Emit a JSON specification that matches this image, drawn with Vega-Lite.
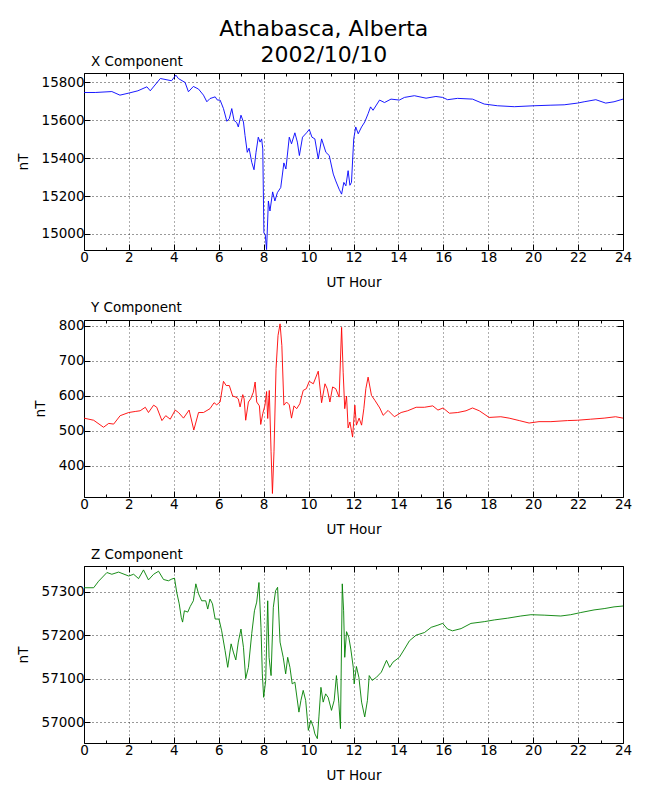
{
  "$schema": "https://vega.github.io/schema/vega-lite/v6.json",
  "padding": {"left": 15, "top": 17, "right": 17, "bottom": 5},
  "title": {"text": ["Athabasca, Alberta", "2002/10/10"], "anchor": "middle", "frame": "bounds", "dx": 0, "fontSize": 22, "fontWeight": "normal", "lineHeight": 26, "offset": -12},
  "datasets": {
    "X": [
      {"h": 0, "v": 15747}, {"h": 0.5, "v": 15747}, {"h": 1.24, "v": 15752}, {"h": 1.6, "v": 15733},
      {"h": 2.0, "v": 15744}, {"h": 2.4, "v": 15756}, {"h": 2.8, "v": 15777}, {"h": 2.95, "v": 15756},
      {"h": 3.4, "v": 15821}, {"h": 3.9, "v": 15809}, {"h": 4.09, "v": 15839}, {"h": 4.2, "v": 15821},
      {"h": 4.5, "v": 15800}, {"h": 4.65, "v": 15751}, {"h": 4.87, "v": 15779}, {"h": 5.1, "v": 15765},
      {"h": 5.32, "v": 15733}, {"h": 5.47, "v": 15698}, {"h": 5.61, "v": 15715}, {"h": 5.84, "v": 15724},
      {"h": 5.94, "v": 15707}, {"h": 6.06, "v": 15707}, {"h": 6.21, "v": 15662}, {"h": 6.36, "v": 15595},
      {"h": 6.47, "v": 15609}, {"h": 6.58, "v": 15662}, {"h": 6.68, "v": 15600}, {"h": 6.8, "v": 15588},
      {"h": 6.87, "v": 15565}, {"h": 6.99, "v": 15627}, {"h": 7.1, "v": 15591}, {"h": 7.17, "v": 15520},
      {"h": 7.27, "v": 15431}, {"h": 7.35, "v": 15453}, {"h": 7.47, "v": 15378}, {"h": 7.57, "v": 15339},
      {"h": 7.66, "v": 15431}, {"h": 7.76, "v": 15511}, {"h": 7.84, "v": 15485}, {"h": 7.91, "v": 15502},
      {"h": 7.96, "v": 15449}, {"h": 8.01, "v": 15005}, {"h": 8.07, "v": 14996}, {"h": 8.13, "v": 14917},
      {"h": 8.21, "v": 15174}, {"h": 8.28, "v": 15121}, {"h": 8.4, "v": 15222}, {"h": 8.5, "v": 15174},
      {"h": 8.61, "v": 15218}, {"h": 8.76, "v": 15245}, {"h": 8.9, "v": 15375}, {"h": 8.99, "v": 15343},
      {"h": 9.14, "v": 15511}, {"h": 9.24, "v": 15476}, {"h": 9.39, "v": 15534}, {"h": 9.5, "v": 15485},
      {"h": 9.59, "v": 15414}, {"h": 9.73, "v": 15511}, {"h": 9.91, "v": 15534}, {"h": 10.03, "v": 15552},
      {"h": 10.15, "v": 15511}, {"h": 10.28, "v": 15502}, {"h": 10.43, "v": 15396}, {"h": 10.58, "v": 15502},
      {"h": 10.77, "v": 15431}, {"h": 10.92, "v": 15414}, {"h": 11.1, "v": 15316}, {"h": 11.21, "v": 15280},
      {"h": 11.36, "v": 15236}, {"h": 11.47, "v": 15210}, {"h": 11.57, "v": 15272}, {"h": 11.66, "v": 15254},
      {"h": 11.76, "v": 15334}, {"h": 11.84, "v": 15257}, {"h": 11.91, "v": 15272}, {"h": 12.01, "v": 15502},
      {"h": 12.1, "v": 15565}, {"h": 12.21, "v": 15529}, {"h": 12.36, "v": 15565}, {"h": 12.5, "v": 15591},
      {"h": 12.65, "v": 15635}, {"h": 12.76, "v": 15671}, {"h": 12.87, "v": 15653}, {"h": 13.16, "v": 15707},
      {"h": 13.38, "v": 15694}, {"h": 13.67, "v": 15712}, {"h": 14.04, "v": 15707}, {"h": 14.27, "v": 15721},
      {"h": 14.71, "v": 15730}, {"h": 15.23, "v": 15717}, {"h": 15.67, "v": 15726}, {"h": 15.97, "v": 15721},
      {"h": 16.19, "v": 15709}, {"h": 16.63, "v": 15716}, {"h": 17.3, "v": 15712}, {"h": 17.82, "v": 15686},
      {"h": 18.41, "v": 15677}, {"h": 19.16, "v": 15672}, {"h": 20.04, "v": 15677}, {"h": 20.79, "v": 15680},
      {"h": 21.38, "v": 15682}, {"h": 21.97, "v": 15691}, {"h": 22.27, "v": 15698}, {"h": 22.79, "v": 15709},
      {"h": 23.23, "v": 15691}, {"h": 23.6, "v": 15698}, {"h": 24, "v": 15712}
    ],
    "Y": [
      {"h": 0, "v": 536}, {"h": 0.43, "v": 530}, {"h": 0.87, "v": 510}, {"h": 1.1, "v": 521},
      {"h": 1.32, "v": 519}, {"h": 1.61, "v": 543}, {"h": 1.99, "v": 552}, {"h": 2.28, "v": 555},
      {"h": 2.5, "v": 557}, {"h": 2.73, "v": 567}, {"h": 2.87, "v": 552}, {"h": 3.1, "v": 573},
      {"h": 3.24, "v": 567}, {"h": 3.47, "v": 529}, {"h": 3.64, "v": 543}, {"h": 3.84, "v": 533},
      {"h": 4.06, "v": 559}, {"h": 4.21, "v": 552}, {"h": 4.43, "v": 536}, {"h": 4.68, "v": 559},
      {"h": 4.89, "v": 502}, {"h": 5.1, "v": 552}, {"h": 5.32, "v": 552}, {"h": 5.61, "v": 563},
      {"h": 5.79, "v": 580}, {"h": 5.91, "v": 574}, {"h": 6.06, "v": 582}, {"h": 6.21, "v": 641},
      {"h": 6.33, "v": 629}, {"h": 6.47, "v": 629}, {"h": 6.62, "v": 599}, {"h": 6.77, "v": 596},
      {"h": 6.87, "v": 591}, {"h": 6.95, "v": 568}, {"h": 7.07, "v": 603}, {"h": 7.13, "v": 591},
      {"h": 7.2, "v": 530}, {"h": 7.32, "v": 582}, {"h": 7.42, "v": 591}, {"h": 7.54, "v": 610},
      {"h": 7.62, "v": 639}, {"h": 7.69, "v": 582}, {"h": 7.81, "v": 571}, {"h": 7.87, "v": 518},
      {"h": 7.96, "v": 549}, {"h": 8.06, "v": 573}, {"h": 8.13, "v": 612}, {"h": 8.18, "v": 535},
      {"h": 8.25, "v": 615}, {"h": 8.33, "v": 440}, {"h": 8.39, "v": 321}, {"h": 8.46, "v": 440},
      {"h": 8.55, "v": 677}, {"h": 8.64, "v": 772}, {"h": 8.73, "v": 805}, {"h": 8.81, "v": 743},
      {"h": 8.9, "v": 573}, {"h": 9.02, "v": 582}, {"h": 9.14, "v": 574}, {"h": 9.24, "v": 536},
      {"h": 9.35, "v": 571}, {"h": 9.47, "v": 563}, {"h": 9.61, "v": 577}, {"h": 9.76, "v": 615},
      {"h": 9.9, "v": 620}, {"h": 10.03, "v": 641}, {"h": 10.21, "v": 634}, {"h": 10.43, "v": 670},
      {"h": 10.58, "v": 580}, {"h": 10.73, "v": 634}, {"h": 10.83, "v": 620}, {"h": 10.95, "v": 582},
      {"h": 11.07, "v": 625}, {"h": 11.21, "v": 620}, {"h": 11.36, "v": 596}, {"h": 11.47, "v": 795},
      {"h": 11.54, "v": 667}, {"h": 11.61, "v": 563}, {"h": 11.69, "v": 599}, {"h": 11.76, "v": 508},
      {"h": 11.84, "v": 525}, {"h": 11.96, "v": 482}, {"h": 12.06, "v": 573}, {"h": 12.13, "v": 516},
      {"h": 12.25, "v": 536}, {"h": 12.36, "v": 516}, {"h": 12.46, "v": 563}, {"h": 12.55, "v": 620},
      {"h": 12.65, "v": 653}, {"h": 12.8, "v": 601}, {"h": 12.95, "v": 587}, {"h": 13.17, "v": 565},
      {"h": 13.32, "v": 544}, {"h": 13.54, "v": 558}, {"h": 13.82, "v": 540}, {"h": 14.12, "v": 552},
      {"h": 14.41, "v": 557}, {"h": 14.79, "v": 567}, {"h": 15.16, "v": 567}, {"h": 15.53, "v": 571},
      {"h": 15.76, "v": 559}, {"h": 15.99, "v": 565}, {"h": 16.27, "v": 550}, {"h": 16.64, "v": 552},
      {"h": 17.01, "v": 557}, {"h": 17.3, "v": 565}, {"h": 17.6, "v": 557}, {"h": 18.04, "v": 538},
      {"h": 18.56, "v": 540}, {"h": 18.93, "v": 536}, {"h": 19.38, "v": 529}, {"h": 19.82, "v": 522},
      {"h": 20.26, "v": 526}, {"h": 20.79, "v": 526}, {"h": 21.53, "v": 529}, {"h": 21.97, "v": 530},
      {"h": 22.56, "v": 533}, {"h": 23.16, "v": 536}, {"h": 23.67, "v": 540}, {"h": 24, "v": 536}
    ],
    "Z": [
      {"h": 0, "v": 57309}, {"h": 0.43, "v": 57309}, {"h": 0.65, "v": 57324}, {"h": 1.02, "v": 57344},
      {"h": 1.24, "v": 57340}, {"h": 1.54, "v": 57345}, {"h": 1.99, "v": 57336}, {"h": 2.21, "v": 57340},
      {"h": 2.43, "v": 57330}, {"h": 2.65, "v": 57350}, {"h": 2.87, "v": 57327}, {"h": 3.1, "v": 57340},
      {"h": 3.32, "v": 57347}, {"h": 3.54, "v": 57328}, {"h": 3.76, "v": 57325}, {"h": 3.91, "v": 57329},
      {"h": 4.03, "v": 57331}, {"h": 4.13, "v": 57298}, {"h": 4.24, "v": 57272}, {"h": 4.33, "v": 57241},
      {"h": 4.39, "v": 57230}, {"h": 4.47, "v": 57256}, {"h": 4.62, "v": 57253}, {"h": 4.73, "v": 57266},
      {"h": 4.87, "v": 57279}, {"h": 4.98, "v": 57318}, {"h": 5.1, "v": 57295}, {"h": 5.24, "v": 57279},
      {"h": 5.42, "v": 57279}, {"h": 5.51, "v": 57260}, {"h": 5.61, "v": 57283}, {"h": 5.72, "v": 57272},
      {"h": 5.84, "v": 57237}, {"h": 6.01, "v": 57237}, {"h": 6.13, "v": 57210}, {"h": 6.28, "v": 57165},
      {"h": 6.4, "v": 57126}, {"h": 6.55, "v": 57180}, {"h": 6.65, "v": 57161}, {"h": 6.76, "v": 57143},
      {"h": 6.87, "v": 57184}, {"h": 6.99, "v": 57214}, {"h": 7.1, "v": 57172}, {"h": 7.2, "v": 57100},
      {"h": 7.32, "v": 57126}, {"h": 7.47, "v": 57204}, {"h": 7.59, "v": 57256}, {"h": 7.69, "v": 57276},
      {"h": 7.79, "v": 57321}, {"h": 7.88, "v": 57218}, {"h": 7.94, "v": 57111}, {"h": 8.0, "v": 57057},
      {"h": 8.09, "v": 57096}, {"h": 8.18, "v": 57279}, {"h": 8.24, "v": 57149}, {"h": 8.33, "v": 57107},
      {"h": 8.43, "v": 57264}, {"h": 8.53, "v": 57302}, {"h": 8.62, "v": 57310}, {"h": 8.73, "v": 57184},
      {"h": 8.87, "v": 57149}, {"h": 8.98, "v": 57111}, {"h": 9.07, "v": 57149}, {"h": 9.17, "v": 57126},
      {"h": 9.27, "v": 57088}, {"h": 9.39, "v": 57092}, {"h": 9.57, "v": 57023}, {"h": 9.66, "v": 57050},
      {"h": 9.76, "v": 57073}, {"h": 9.87, "v": 57050}, {"h": 9.99, "v": 56981}, {"h": 10.1, "v": 57004},
      {"h": 10.21, "v": 56989}, {"h": 10.28, "v": 56973}, {"h": 10.39, "v": 56962}, {"h": 10.46, "v": 57012},
      {"h": 10.55, "v": 57080}, {"h": 10.65, "v": 57046}, {"h": 10.76, "v": 57065}, {"h": 10.87, "v": 57057},
      {"h": 11.02, "v": 57027}, {"h": 11.14, "v": 57050}, {"h": 11.24, "v": 57107}, {"h": 11.35, "v": 57042},
      {"h": 11.42, "v": 56985}, {"h": 11.5, "v": 57318}, {"h": 11.56, "v": 57256}, {"h": 11.61, "v": 57149},
      {"h": 11.69, "v": 57208}, {"h": 11.79, "v": 57195}, {"h": 11.88, "v": 57168}, {"h": 11.99, "v": 57126},
      {"h": 12.03, "v": 57088}, {"h": 12.13, "v": 57128}, {"h": 12.24, "v": 57103}, {"h": 12.36, "v": 57046},
      {"h": 12.5, "v": 57012}, {"h": 12.62, "v": 57050}, {"h": 12.7, "v": 57107}, {"h": 12.83, "v": 57096},
      {"h": 13.02, "v": 57103}, {"h": 13.24, "v": 57115}, {"h": 13.47, "v": 57142}, {"h": 13.61, "v": 57126},
      {"h": 13.76, "v": 57138}, {"h": 14.04, "v": 57149}, {"h": 14.27, "v": 57168}, {"h": 14.49, "v": 57187},
      {"h": 14.79, "v": 57200}, {"h": 15.16, "v": 57206}, {"h": 15.46, "v": 57218}, {"h": 15.76, "v": 57223},
      {"h": 15.97, "v": 57227}, {"h": 16.19, "v": 57214}, {"h": 16.41, "v": 57210}, {"h": 16.79, "v": 57215},
      {"h": 17.23, "v": 57227}, {"h": 17.82, "v": 57231}, {"h": 18.27, "v": 57235}, {"h": 18.86, "v": 57239},
      {"h": 19.45, "v": 57244}, {"h": 19.9, "v": 57247}, {"h": 20.49, "v": 57246}, {"h": 21.23, "v": 57244},
      {"h": 21.67, "v": 57247}, {"h": 22.12, "v": 57252}, {"h": 22.71, "v": 57258}, {"h": 23.16, "v": 57261},
      {"h": 23.6, "v": 57265}, {"h": 24, "v": 57267}
    ]
  },
  "vconcat": [
    {
      "title": "X Component",
      "width": 539,
      "height": 177,
      "data": {"name": "X"},
      "layer": [
        {
          "mark": {"type": "line", "color": "#0000ff", "strokeWidth": 0.9},
          "encoding": {
            "x": {"field": "h", "type": "quantitative", "title": "UT Hour",
                  "scale": {"domain": [0, 24], "nice": false},
                  "axis": {"values": [0, 1, 2, 3, 4, 5, 6, 7, 8, 9, 10, 11, 12, 13, 14, 15, 16, 17, 18, 19, 20, 21, 22, 23, 24],
                           "labelExpr": "datum.value % 2 == 0 ? datum.label : ''",
                           "tickSize": {"condition": {"test": "datum.value % 2 == 1", "value": -3}, "value": -6},
                           "gridOpacity": {"condition": {"test": "datum.value % 2 == 1", "value": 0}, "value": 0.8}}},
            "y": {"field": "v", "type": "quantitative", "title": "nT",
                  "scale": {"domain": [14915, 15850], "nice": false, "zero": false},
                  "axis": {"values": [15000, 15200, 15400, 15600, 15800], "format": "d"}}
          }
        },
        {
          "mark": {"type": "line", "opacity": 0},
          "encoding": {
            "x": {"field": "h", "type": "quantitative",
                  "axis": {"orient": "top", "title": null, "labels": false, "grid": false,
                           "values": [0, 1, 2, 3, 4, 5, 6, 7, 8, 9, 10, 11, 12, 13, 14, 15, 16, 17, 18, 19, 20, 21, 22, 23, 24],
                           "tickSize": {"condition": {"test": "datum.value % 2 == 1", "value": -3}, "value": -6}}},
            "y": {"field": "v", "type": "quantitative",
                  "axis": {"orient": "right", "title": null, "labels": false, "grid": false,
                           "values": [15000, 15200, 15400, 15600, 15800]}}
          }
        }
      ],
      "resolve": {"axis": {"x": "independent", "y": "independent"}}
    },
    {
      "title": "Y Component",
      "width": 539,
      "height": 177,
      "data": {"name": "Y"},
      "layer": [
        {
          "mark": {"type": "line", "color": "#ff0000", "strokeWidth": 0.9},
          "encoding": {
            "x": {"field": "h", "type": "quantitative", "title": "UT Hour",
                  "scale": {"domain": [0, 24], "nice": false},
                  "axis": {"values": [0, 1, 2, 3, 4, 5, 6, 7, 8, 9, 10, 11, 12, 13, 14, 15, 16, 17, 18, 19, 20, 21, 22, 23, 24],
                           "labelExpr": "datum.value % 2 == 0 ? datum.label : ''",
                           "tickSize": {"condition": {"test": "datum.value % 2 == 1", "value": -3}, "value": -6},
                           "gridOpacity": {"condition": {"test": "datum.value % 2 == 1", "value": 0}, "value": 0.8}}},
            "y": {"field": "v", "type": "quantitative", "title": "nT",
                  "scale": {"domain": [311, 816], "nice": false, "zero": false},
                  "axis": {"values": [400, 500, 600, 700, 800], "format": "d"}}
          }
        },
        {
          "mark": {"type": "line", "opacity": 0},
          "encoding": {
            "x": {"field": "h", "type": "quantitative",
                  "axis": {"orient": "top", "title": null, "labels": false, "grid": false,
                           "values": [0, 1, 2, 3, 4, 5, 6, 7, 8, 9, 10, 11, 12, 13, 14, 15, 16, 17, 18, 19, 20, 21, 22, 23, 24],
                           "tickSize": {"condition": {"test": "datum.value % 2 == 1", "value": -3}, "value": -6}}},
            "y": {"field": "v", "type": "quantitative",
                  "axis": {"orient": "right", "title": null, "labels": false, "grid": false,
                           "values": [400, 500, 600, 700, 800]}}
          }
        }
      ],
      "resolve": {"axis": {"x": "independent", "y": "independent"}}
    },
    {
      "title": "Z Component",
      "width": 539,
      "height": 177,
      "data": {"name": "Z"},
      "layer": [
        {
          "mark": {"type": "line", "color": "#008000", "strokeWidth": 0.9},
          "encoding": {
            "x": {"field": "h", "type": "quantitative", "title": "UT Hour",
                  "scale": {"domain": [0, 24], "nice": false},
                  "axis": {"values": [0, 1, 2, 3, 4, 5, 6, 7, 8, 9, 10, 11, 12, 13, 14, 15, 16, 17, 18, 19, 20, 21, 22, 23, 24],
                           "labelExpr": "datum.value % 2 == 0 ? datum.label : ''",
                           "tickSize": {"condition": {"test": "datum.value % 2 == 1", "value": -3}, "value": -6},
                           "gridOpacity": {"condition": {"test": "datum.value % 2 == 1", "value": 0}, "value": 0.8}}},
            "y": {"field": "v", "type": "quantitative", "title": "nT",
                  "scale": {"domain": [56952, 57359], "nice": false, "zero": false},
                  "axis": {"values": [57000, 57100, 57200, 57300], "format": "d"}}
          }
        },
        {
          "mark": {"type": "line", "opacity": 0},
          "encoding": {
            "x": {"field": "h", "type": "quantitative",
                  "axis": {"orient": "top", "title": null, "labels": false, "grid": false,
                           "values": [0, 1, 2, 3, 4, 5, 6, 7, 8, 9, 10, 11, 12, 13, 14, 15, 16, 17, 18, 19, 20, 21, 22, 23, 24],
                           "tickSize": {"condition": {"test": "datum.value % 2 == 1", "value": -3}, "value": -6}}},
            "y": {"field": "v", "type": "quantitative",
                  "axis": {"orient": "right", "title": null, "labels": false, "grid": false,
                           "values": [57000, 57100, 57200, 57300]}}
          }
        }
      ],
      "resolve": {"axis": {"x": "independent", "y": "independent"}}
    }
  ],
  "spacing": 10,
  "config": {
    "font": "DejaVu Sans",
    "view": {"stroke": "black", "strokeWidth": 1},
    "title": {"anchor": "start", "frame": "group", "dx": 7, "fontSize": 13.5, "fontWeight": "normal", "offset": 4, "color": "black"},
    "axis": {
      "labelFontSize": 13.5,
      "titleFontSize": 13.5,
      "titleFontWeight": "normal",
      "labelColor": "black",
      "titleColor": "black",
      "grid": true,
      "gridColor": "black",
      "gridDash": [1, 3],
      "gridOpacity": 0.8,
      "domain": false,
      "tickColor": "black",
      "tickSize": -6,
      "labelPadding": 6,
      "labelFlush": false
    },
    "axisX": {"titlePadding": 12},
    "axisY": {"titlePadding": 11}
  }
}
